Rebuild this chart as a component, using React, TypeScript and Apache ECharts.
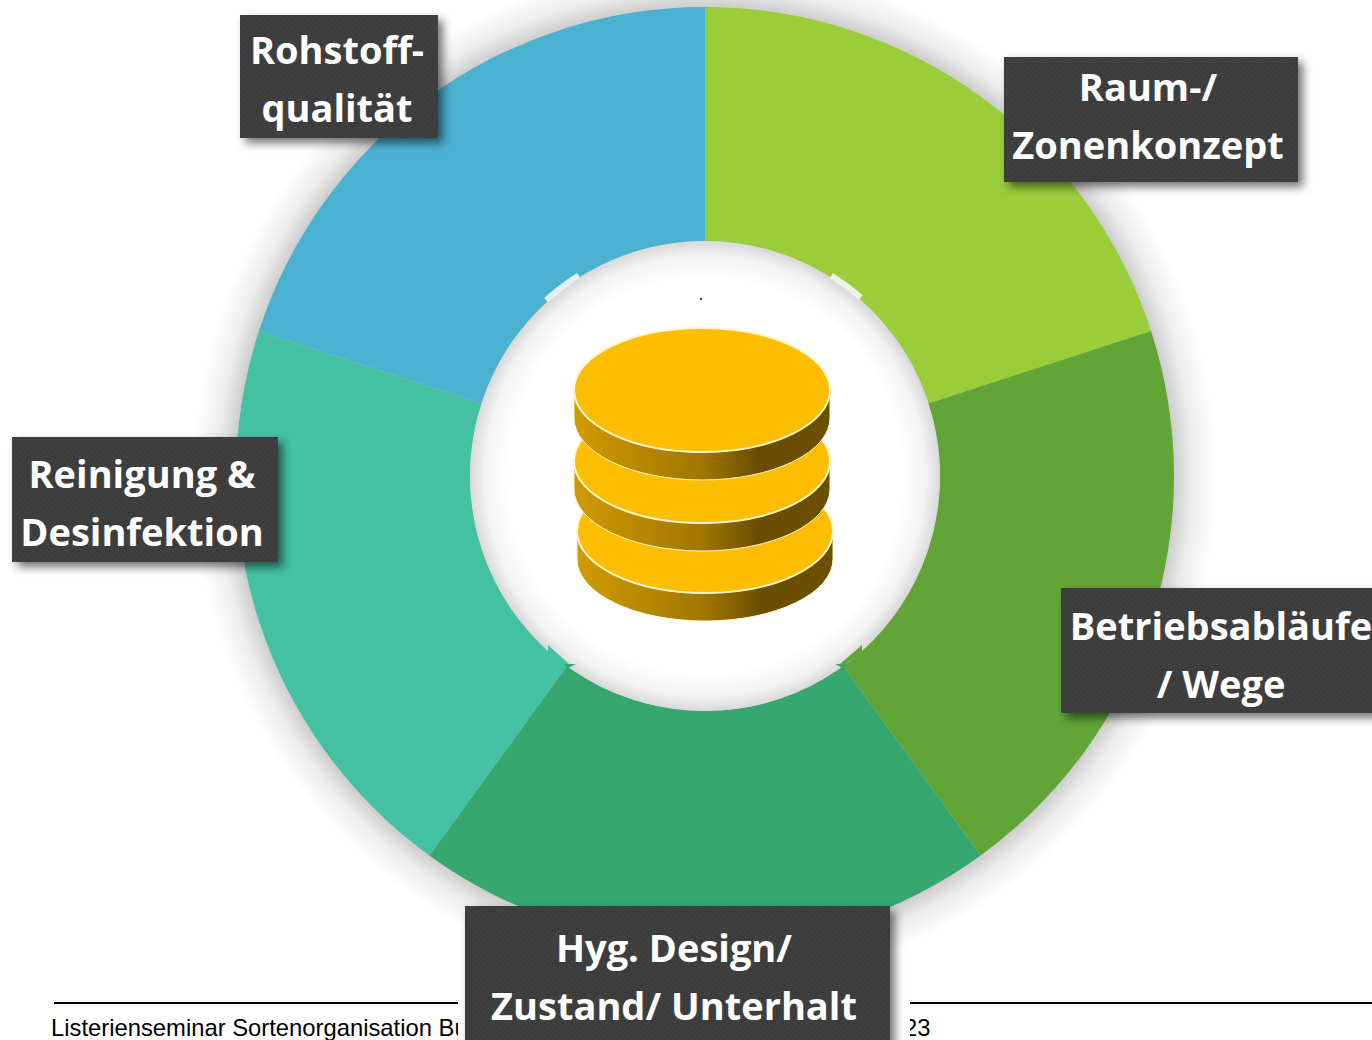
import React, { useEffect, useRef } from "react";
import * as echarts from "echarts";

const categories = [
  "Raum-/\nZonenkonzept",
  "Betriebsabläufe\n/ Wege",
  "Hyg. Design/\nZustand/ Unterhalt",
  "Reinigung &\nDesinfektion",
  "Rohstoff-\nqualität",
];
const values = [1, 1, 1, 1, 1];
const colors = ["#9ACD39", "#62A537", "#36A76F", "#44C1A2", "#4BB1D0"];
const labelBoxes = [
  [1004, 57, 294, 125, 1148, 86],
  [1061, 588, 340, 125, 1221, 625],
  [465, 906, 425, 160, 674, 947],
  [12, 437, 266, 125, 142, 473],
  [240, 15, 198, 123, 337, 49],
];
const footerLeft = "Listerienseminar Sortenorganisation Bu";
const footerRight = "23";

const cx = 705;
const cy = 476;
const R = 469;
const r0 = 235;

echarts.graphic.registerShape(
  "coinSide",
  echarts.graphic.extendPath("M0 0 A128 62 0 0 0 256 0 L256 28 A128 62 0 0 1 0 28 Z", {})
);

function dotPattern() {
  const c = document.createElement("canvas");
  c.width = 6;
  c.height = 6;
  const g = c.getContext("2d")!;
  g.fillStyle = "#3d3d3d";
  g.fillRect(0, 0, 6, 6);
  g.fillStyle = "#4c4c4c";
  g.fillRect(1, 1, 1, 1);
  g.fillRect(4, 4, 1, 1);
  return c;
}

const sideGradient = {
  type: "linear",
  x: 0,
  y: 0,
  x2: 1,
  y2: 0,
  colorStops: [
    { offset: 0, color: "#D09A00" },
    { offset: 0.5, color: "#A07600" },
    { offset: 0.72, color: "#6A4E00" },
    { offset: 1, color: "#6A5000" },
  ],
};

function coin(x: number, y: number) {
  return [
    {
      type: "coinSide",
      x: x - 128,
      y,
      z: 20,
      style: { fill: sideGradient, stroke: "#FFF4CC", lineWidth: 1 },
    },
    {
      type: "ellipse",
      shape: { cx: x, cy: y, rx: 128, ry: 62 },
      z: 20,
      style: { fill: "#FDBD00", stroke: "#FFF4CC", lineWidth: 2 },
    },
  ];
}

function sliver(a0: number, a1: number, fill: string) {
  return {
    type: "sector",
    z: 11,
    shape: {
      cx,
      cy,
      r0: r0 - 1,
      r: 240,
      startAngle: (a0 * Math.PI) / 180,
      endAngle: (a1 * Math.PI) / 180,
      clockwise: true,
    },
    style: { fill },
  };
}

function buildOption() {
  const pattern = { image: dotPattern(), repeat: "repeat" };
  const labels = categories.flatMap((name, i) => {
    const [x, y, w, h, tx, ty] = labelBoxes[i];
    const lines = name.split("\n");
    return [
      {
        type: "rect",
        z: 40,
        shape: { x, y, width: w, height: h },
        style: {
          fill: pattern,
          shadowBlur: 10,
          shadowOffsetX: 5,
          shadowOffsetY: 5,
          shadowColor: "rgba(0,0,0,0.55)",
        },
      },
      ...lines.map((line, k) => ({
        type: "text",
        z: 41,
        style: {
          text: line,
          x: tx,
          y: ty + k * 57.5,
          align: "center",
          verticalAlign: "middle",
          fill: "#FFFFFF",
          font: "700 38px 'Open Sans'",
        },
      })),
    ];
  });

  return {
    animation: false,
    backgroundColor: "#FFFFFF",
    series: [
      {
        type: "pie",
        z: 5,
        center: [cx, cy],
        radius: [r0, R],
        startAngle: 90,
        clockwise: true,
        silent: true,
        label: { show: false },
        labelLine: { show: false },
        data: categories.map((name, i) => ({
          name,
          value: values[i],
          itemStyle: { color: colors[i] },
        })),
      },
    ],
    graphic: [
      {
        type: "circle",
        z: 1,
        shape: { cx, cy, r: 512 },
        style: {
          fill: {
            type: "radial",
            x: 0.5,
            y: 0.5,
            r: 0.5,
            colorStops: [
              { offset: 0, color: "#c8c8c8" },
              { offset: 0.91, color: "#c8c8c8" },
              { offset: 0.95, color: "#ebebeb" },
              { offset: 1, color: "#ffffff" },
            ],
          },
        },
      },
      {
        type: "circle",
        z: 10,
        shape: { cx, cy, r: r0 },
        style: {
          fill: {
            type: "radial",
            x: 0.5,
            y: 0.5,
            r: 0.5,
            colorStops: [
              { offset: 0, color: "#ffffff" },
              { offset: 0.84, color: "#ffffff" },
              { offset: 0.94, color: "#f2f2f2" },
              { offset: 1, color: "#d8d8d8" },
            ],
          },
        },
      },
      sliver(-132.1, -122.2, "#E8EEF0"),
      sliver(-57.8, -48.9, "#EEF2E8"),
      {
        type: "polygon",
        z: 12,
        shape: { points: [[548, 645], [548, 652], [566, 666], [569, 664]] },
        style: { fill: "#44C1A2" },
      },
      {
        type: "polygon",
        z: 12,
        shape: { points: [[563, 664], [576, 664], [568, 668]] },
        style: { fill: "#36A76F" },
      },
      {
        type: "polygon",
        z: 12,
        shape: { points: [[862, 645], [862, 652], [843, 666], [840, 664]] },
        style: { fill: "#62A537" },
      },
      {
        type: "polygon",
        z: 12,
        shape: { points: [[835, 664], [847, 664], [842, 668]] },
        style: { fill: "#36A76F" },
      },
      { type: "circle", z: 20, shape: { cx: 701, cy: 299, r: 1.2 }, style: { fill: "#444444" } },
      ...coin(705, 531),
      ...coin(702, 461),
      ...coin(702, 390),
      {
        type: "line",
        z: 30,
        shape: { x1: 54, y1: 1003, x2: 1372, y2: 1003 },
        style: { stroke: "#000000", lineWidth: 2 },
      },
      {
        type: "text",
        z: 30,
        style: {
          text: footerLeft,
          x: 51,
          y: 1027,
          verticalAlign: "middle",
          fill: "#000000",
          font: "23.8px 'Liberation Sans'",
        },
      },
      {
        type: "text",
        z: 30,
        style: {
          text: footerRight,
          x: 904,
          y: 1027,
          verticalAlign: "middle",
          fill: "#000000",
          font: "23.8px 'Liberation Sans'",
        },
      },
      {
        type: "rect",
        z: 35,
        shape: { x: 458, y: 985, width: 452, height: 60 },
        style: { fill: "#FFFFFF" },
      },
      ...labels,
    ],
  };
}

export default function App() {
  const ref = useRef<HTMLDivElement>(null);
  useEffect(() => {
    const chart = echarts.init(ref.current!, undefined, { renderer: "svg" });
    chart.setOption(buildOption() as any);
    return () => chart.dispose();
  }, []);
  return (
    <div
      ref={ref}
      style={{ position: "absolute", left: 0, top: 0, width: 1372, height: 1040, overflow: "hidden" }}
    />
  );
}
